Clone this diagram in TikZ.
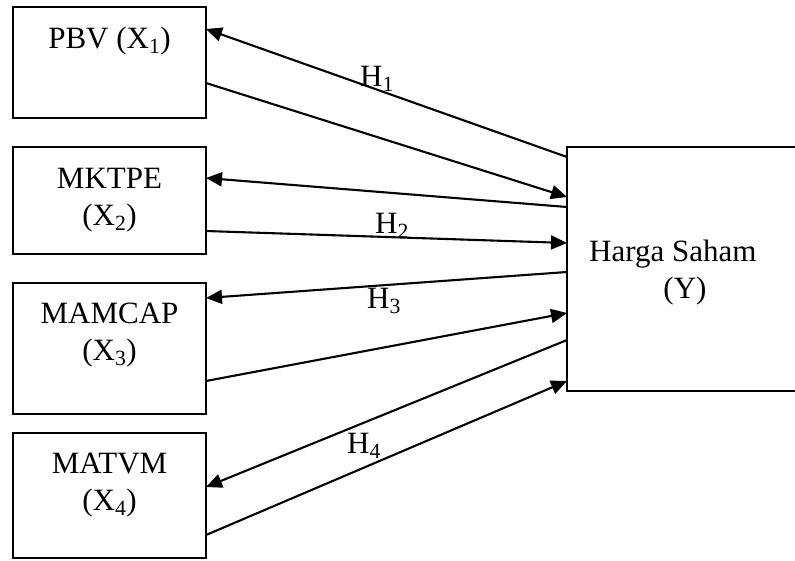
\documentclass[tikz,border=0pt]{standalone}
\usepackage{fontspec}
\setmainfont{Liberation Serif}
\usetikzlibrary{arrows.meta,calc}

\tikzset{
  varbox/.style={draw, line width=2.1pt, rectangle, inner sep=0pt, outer sep=0pt,
                 anchor=north west, minimum width=193pt},
  boxtext/.style={anchor=base, inner sep=0pt, align=center,
                  font=\fontsize{31}{38}\selectfont},
  hyp/.style={anchor=base west, inner sep=0pt, font=\fontsize{31}{38}\selectfont},
  link/.style={line width=2.1pt, -{Triangle[length=16pt,width=14pt]}}
}

\begin{document}
\begin{tikzpicture}[x=1pt,y=-1pt]
  \clip (0,0) rectangle (795,560);

  % independent variables
  \node[varbox, minimum height=111pt] (x1) at (13,7) {};
  \node[varbox, minimum height=107pt] (x2) at (13,147) {};
  \node[varbox, minimum height=131pt] (x3) at (13,283) {};
  \node[varbox, minimum height=125pt] (x4) at (13,433) {};
  % dependent variable
  \node[varbox, minimum width=320pt, minimum height=244pt] (y) at (567,147) {};

  \node[boxtext] (t1) at (109.5,48) {PBV (X\textsubscript{1})};
  \node[boxtext] (t2) at (109.5,188) {MKTPE};
  \node[boxtext] (t2b) at (109.5,225) {(X\textsubscript{2})};
  \node[boxtext] (t3) at (109.5,323) {MAMCAP};
  \node[boxtext] (t3b) at (109.5,360) {(X\textsubscript{3})};
  \node[boxtext] (t4) at (109.5,473) {MATVM};
  \node[boxtext] (t4b) at (109.5,510) {(X\textsubscript{4})};
  \node[boxtext, anchor=base west] (ty) at (589,261) {Harga Saham};
  \node[boxtext] (tyb) at (685,298) {(Y)};

  % hypothesis paths
  \draw[link] ($(y.north west)+(0,10)$)  -- ($(x1.north east)+(0,22)$);
  \draw[link] ($(x1.north east)+(0,76)$) -- ($(y.north west)+(0,50)$);
  \draw[link] ($(y.north west)+(0,60)$)  -- ($(x2.north east)+(0,31)$);
  \draw[link] ($(x2.north east)+(0,84)$) -- ($(y.north west)+(0,96)$);
  \draw[link] ($(y.north west)+(0,125)$) -- ($(x3.north east)+(0,15)$);
  \draw[link] ($(x3.north east)+(0,98)$) -- ($(y.north west)+(0,166)$);
  \draw[link] ($(y.north west)+(0,193)$) -- ($(x4.north east)+(0,54)$);
  \draw[link] ($(x4.north east)+(0,102)$) -- ($(y.north west)+(0,234)$);

  \node[hyp] (h1) at (360,86) {H\textsubscript{1}};
  \node[hyp] (h2) at (375,233) {H\textsubscript{2}};
  \node[hyp] (h3) at (367,308) {H\textsubscript{3}};
  \node[hyp] (h4) at (347,453) {H\textsubscript{4}};
\end{tikzpicture}
\end{document}
